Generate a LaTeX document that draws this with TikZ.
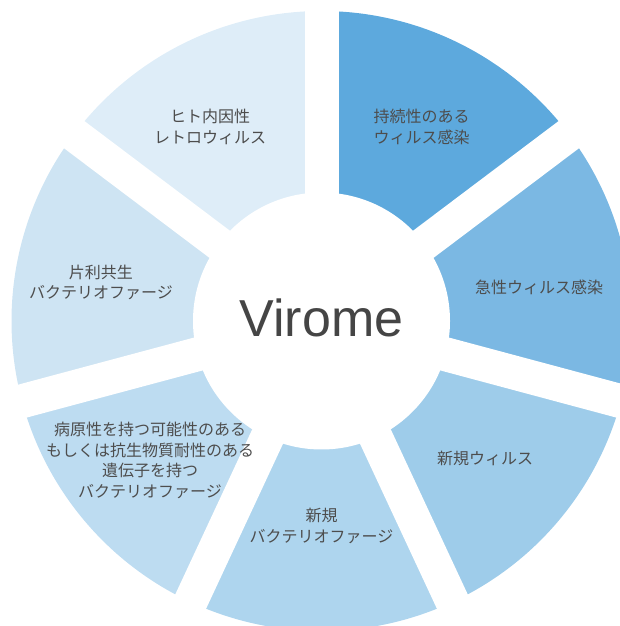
\documentclass[tikz,border=0pt]{standalone}
\usepackage{fontspec}
\newfontfamily\jpfont{Noto Sans CJK JP}
\newfontfamily\latinfont{Liberation Sans}
\definecolor{segA}{HTML}{5DA9DD}
\definecolor{segB}{HTML}{7BB8E3}
\definecolor{segC}{HTML}{9ECCEA}
\definecolor{segD}{HTML}{AED5EE}
\definecolor{segE}{HTML}{BDDCF1}
\definecolor{segF}{HTML}{CEE4F3}
\definecolor{segG}{HTML}{DEEDF8}
\definecolor{txt}{HTML}{4D4D4D}
\tikzset{
  lbl/.style={font=\jpfont\fontsize{16}{20.5}\selectfont, text=txt, align=center, inner sep=0pt},
  gapline/.style={white, line width=34pt},
}
\newcommand{\segment}[3]{\fill[#3] (c) -- ++(#1:310pt) arc[start angle=#1, end angle=#2, radius=310pt] -- cycle;}
\begin{document}
\begin{tikzpicture}[x=1pt,y=1pt]
\useasboundingbox (0,0) rectangle (620,626);
\clip (0,0) rectangle (620,626);
\coordinate (c) at (321.5,305);
\segment{90}{37}{segA}
\segment{37}{-15}{segB}
\segment{-15}{-65}{segC}
\segment{-65}{-115}{segD}
\segment{-115}{-165}{segE}
\segment{-165}{-217}{segF}
\segment{143}{90}{segG}
\foreach \a in {90,37,-15,-65,-115,-165,143}
  \draw[gapline] (c) -- ++(\a:340pt);
\fill[white] (c) circle[radius=128.5pt];
\node[font=\latinfont\fontsize{52}{60}\selectfont, text=txt!90!black, inner sep=0pt] (virome) at (321.5,308) {Virome};
\node[lbl] (persist) at (421.5,499) {持続性のある\\ウィルス感染};
\node[lbl] (acute) at (539,339) {急性ウィルス感染};
\node[lbl] (newvirus) at (485,168) {新規ウィルス};
\node[lbl] (newphage) at (321.5,100) {新規\\バクテリオファージ};
\node[lbl] (pathogen) at (150,165.5) {病原性を持つ可能性のある\\もしくは抗生物質耐性のある\\遺伝子を持つ\\バクテリオファージ};
\node[lbl] (commensal) at (101,343.5) {片利共生\\バクテリオファージ};
\node[lbl] (herv) at (210,499) {ヒト内因性\\レトロウィルス};
\end{tikzpicture}
\end{document}
